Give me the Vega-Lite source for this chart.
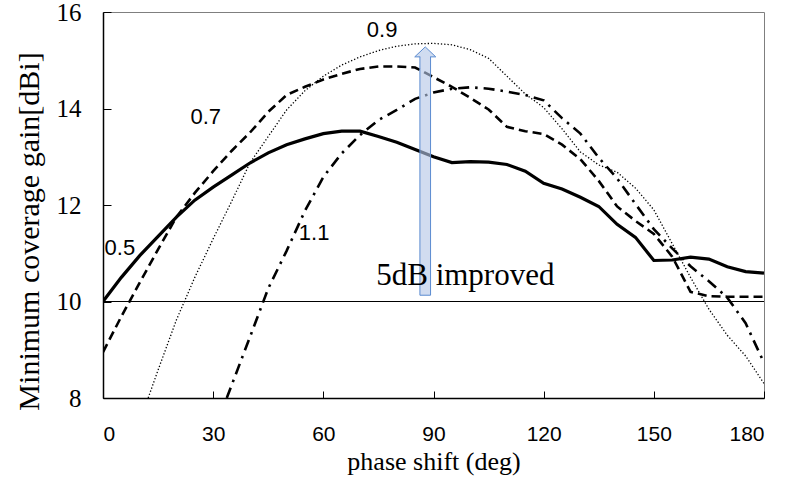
{
  "$schema": "https://vega.github.io/schema/vega-lite/v6.json",
  "width": 661,
  "height": 386,
  "autosize": "none",
  "padding": {"left": 103, "top": 12, "right": 36, "bottom": 83},
  "background": "white",
  "config": {
    "view": {"stroke": "#7f7f7f", "strokeWidth": 1},
    "axis": {"grid": false, "domainColor": "#000000", "domainWidth": 1.5, "tickColor": "#000000", "tickWidth": 1, "labelColor": "#000000", "titleColor": "#000000", "titleFontWeight": "normal"}
  },
  "datasets": {
    "curves": [
      {"phase": 0, "gain": 10.0, "series": "0.5"},
      {"phase": 5, "gain": 10.5, "series": "0.5"},
      {"phase": 10, "gain": 10.95, "series": "0.5"},
      {"phase": 15, "gain": 11.35, "series": "0.5"},
      {"phase": 20, "gain": 11.75, "series": "0.5"},
      {"phase": 25, "gain": 12.1, "series": "0.5"},
      {"phase": 30, "gain": 12.37, "series": "0.5"},
      {"phase": 35, "gain": 12.62, "series": "0.5"},
      {"phase": 40, "gain": 12.87, "series": "0.5"},
      {"phase": 45, "gain": 13.08, "series": "0.5"},
      {"phase": 50, "gain": 13.25, "series": "0.5"},
      {"phase": 55, "gain": 13.37, "series": "0.5"},
      {"phase": 60, "gain": 13.48, "series": "0.5"},
      {"phase": 65, "gain": 13.53, "series": "0.5"},
      {"phase": 70, "gain": 13.53, "series": "0.5"},
      {"phase": 75, "gain": 13.42, "series": "0.5"},
      {"phase": 80, "gain": 13.3, "series": "0.5"},
      {"phase": 85, "gain": 13.15, "series": "0.5"},
      {"phase": 90, "gain": 13.0, "series": "0.5"},
      {"phase": 95, "gain": 12.88, "series": "0.5"},
      {"phase": 100, "gain": 12.9, "series": "0.5"},
      {"phase": 105, "gain": 12.89, "series": "0.5"},
      {"phase": 110, "gain": 12.84, "series": "0.5"},
      {"phase": 115, "gain": 12.7, "series": "0.5"},
      {"phase": 120, "gain": 12.45, "series": "0.5"},
      {"phase": 125, "gain": 12.33, "series": "0.5"},
      {"phase": 130, "gain": 12.16, "series": "0.5"},
      {"phase": 135, "gain": 11.97, "series": "0.5"},
      {"phase": 140, "gain": 11.6, "series": "0.5"},
      {"phase": 145, "gain": 11.33, "series": "0.5"},
      {"phase": 150, "gain": 10.85, "series": "0.5"},
      {"phase": 155, "gain": 10.86, "series": "0.5"},
      {"phase": 160, "gain": 10.92, "series": "0.5"},
      {"phase": 165, "gain": 10.88, "series": "0.5"},
      {"phase": 170, "gain": 10.72, "series": "0.5"},
      {"phase": 175, "gain": 10.62, "series": "0.5"},
      {"phase": 180, "gain": 10.59, "series": "0.5"},

      {"phase": 0, "gain": 8.95, "series": "0.7"},
      {"phase": 5, "gain": 9.69, "series": "0.7"},
      {"phase": 10, "gain": 10.39, "series": "0.7"},
      {"phase": 15, "gain": 11.08, "series": "0.7"},
      {"phase": 20, "gain": 11.75, "series": "0.7"},
      {"phase": 25, "gain": 12.25, "series": "0.7"},
      {"phase": 30, "gain": 12.7, "series": "0.7"},
      {"phase": 35, "gain": 13.12, "series": "0.7"},
      {"phase": 40, "gain": 13.5, "series": "0.7"},
      {"phase": 45, "gain": 13.93, "series": "0.7"},
      {"phase": 50, "gain": 14.28, "series": "0.7"},
      {"phase": 55, "gain": 14.45, "series": "0.7"},
      {"phase": 60, "gain": 14.6, "series": "0.7"},
      {"phase": 65, "gain": 14.72, "series": "0.7"},
      {"phase": 70, "gain": 14.82, "series": "0.7"},
      {"phase": 75, "gain": 14.87, "series": "0.7"},
      {"phase": 80, "gain": 14.87, "series": "0.7"},
      {"phase": 85, "gain": 14.85, "series": "0.7"},
      {"phase": 90, "gain": 14.65, "series": "0.7"},
      {"phase": 95, "gain": 14.45, "series": "0.7"},
      {"phase": 100, "gain": 14.22, "series": "0.7"},
      {"phase": 105, "gain": 13.98, "series": "0.7"},
      {"phase": 110, "gain": 13.62, "series": "0.7"},
      {"phase": 115, "gain": 13.53, "series": "0.7"},
      {"phase": 120, "gain": 13.47, "series": "0.7"},
      {"phase": 125, "gain": 13.25, "series": "0.7"},
      {"phase": 130, "gain": 12.95, "series": "0.7"},
      {"phase": 135, "gain": 12.5, "series": "0.7"},
      {"phase": 140, "gain": 11.97, "series": "0.7"},
      {"phase": 145, "gain": 11.67, "series": "0.7"},
      {"phase": 150, "gain": 11.4, "series": "0.7"},
      {"phase": 155, "gain": 10.93, "series": "0.7"},
      {"phase": 160, "gain": 10.2, "series": "0.7"},
      {"phase": 165, "gain": 10.11, "series": "0.7"},
      {"phase": 170, "gain": 10.1, "series": "0.7"},
      {"phase": 175, "gain": 10.1, "series": "0.7"},
      {"phase": 180, "gain": 10.1, "series": "0.7"},

      {"phase": 12.3, "gain": 8.0, "series": "0.9"},
      {"phase": 15, "gain": 8.58, "series": "0.9"},
      {"phase": 20, "gain": 9.62, "series": "0.9"},
      {"phase": 25, "gain": 10.5, "series": "0.9"},
      {"phase": 30, "gain": 11.3, "series": "0.9"},
      {"phase": 35, "gain": 12.07, "series": "0.9"},
      {"phase": 40, "gain": 12.87, "series": "0.9"},
      {"phase": 45, "gain": 13.42, "series": "0.9"},
      {"phase": 50, "gain": 13.97, "series": "0.9"},
      {"phase": 55, "gain": 14.37, "series": "0.9"},
      {"phase": 60, "gain": 14.67, "series": "0.9"},
      {"phase": 65, "gain": 14.9, "series": "0.9"},
      {"phase": 70, "gain": 15.07, "series": "0.9"},
      {"phase": 75, "gain": 15.2, "series": "0.9"},
      {"phase": 80, "gain": 15.29, "series": "0.9"},
      {"phase": 85, "gain": 15.34, "series": "0.9"},
      {"phase": 90, "gain": 15.35, "series": "0.9"},
      {"phase": 95, "gain": 15.32, "series": "0.9"},
      {"phase": 100, "gain": 15.22, "series": "0.9"},
      {"phase": 105, "gain": 15.04, "series": "0.9"},
      {"phase": 110, "gain": 14.67, "series": "0.9"},
      {"phase": 115, "gain": 14.3, "series": "0.9"},
      {"phase": 120, "gain": 14.02, "series": "0.9"},
      {"phase": 125, "gain": 13.58, "series": "0.9"},
      {"phase": 130, "gain": 13.1, "series": "0.9"},
      {"phase": 135, "gain": 12.83, "series": "0.9"},
      {"phase": 140, "gain": 12.68, "series": "0.9"},
      {"phase": 145, "gain": 12.35, "series": "0.9"},
      {"phase": 150, "gain": 11.9, "series": "0.9"},
      {"phase": 155, "gain": 11.2, "series": "0.9"},
      {"phase": 160, "gain": 10.5, "series": "0.9"},
      {"phase": 165, "gain": 9.84, "series": "0.9"},
      {"phase": 170, "gain": 9.3, "series": "0.9"},
      {"phase": 175, "gain": 8.87, "series": "0.9"},
      {"phase": 180, "gain": 8.3, "series": "0.9"},

      {"phase": 33.7, "gain": 8.0, "series": "1.1"},
      {"phase": 35, "gain": 8.26, "series": "1.1"},
      {"phase": 40, "gain": 9.26, "series": "1.1"},
      {"phase": 45, "gain": 10.27, "series": "1.1"},
      {"phase": 50, "gain": 11.05, "series": "1.1"},
      {"phase": 55, "gain": 11.88, "series": "1.1"},
      {"phase": 60, "gain": 12.58, "series": "1.1"},
      {"phase": 65, "gain": 13.07, "series": "1.1"},
      {"phase": 70, "gain": 13.45, "series": "1.1"},
      {"phase": 75, "gain": 13.76, "series": "1.1"},
      {"phase": 80, "gain": 13.97, "series": "1.1"},
      {"phase": 85, "gain": 14.2, "series": "1.1"},
      {"phase": 90, "gain": 14.33, "series": "1.1"},
      {"phase": 95, "gain": 14.41, "series": "1.1"},
      {"phase": 100, "gain": 14.44, "series": "1.1"},
      {"phase": 105, "gain": 14.41, "series": "1.1"},
      {"phase": 110, "gain": 14.35, "series": "1.1"},
      {"phase": 115, "gain": 14.28, "series": "1.1"},
      {"phase": 120, "gain": 14.17, "series": "1.1"},
      {"phase": 125, "gain": 13.8, "series": "1.1"},
      {"phase": 130, "gain": 13.48, "series": "1.1"},
      {"phase": 135, "gain": 12.98, "series": "1.1"},
      {"phase": 140, "gain": 12.55, "series": "1.1"},
      {"phase": 145, "gain": 12.02, "series": "1.1"},
      {"phase": 150, "gain": 11.5, "series": "1.1"},
      {"phase": 155, "gain": 11.1, "series": "1.1"},
      {"phase": 160, "gain": 10.73, "series": "1.1"},
      {"phase": 165, "gain": 10.42, "series": "1.1"},
      {"phase": 170, "gain": 10.08, "series": "1.1"},
      {"phase": 175, "gain": 9.55, "series": "1.1"},
      {"phase": 180, "gain": 8.73, "series": "1.1"}
    ],
    "shaft": [{"x1": 86.3, "x2": 89.2, "y1": 10.13, "y2": 15.1}],
    "head": [{"hx": 87.75, "hy": 15.07}],
    "labels": [
      {"lx": 4.6, "ly": 11.11, "text": "0.5"},
      {"lx": 28, "ly": 13.82, "text": "0.7"},
      {"lx": 76, "ly": 15.63, "text": "0.9"},
      {"lx": 57.5, "ly": 11.42, "text": "1.1"}
    ],
    "note": [{"nx": 74.4, "ny": 10.34, "text": "5dB improved"}],
    "base": [{"level": 10}]
  },
  "layer": [
    {
      "data": {"name": "base"},
      "mark": {"type": "rule", "color": "#000000", "strokeWidth": 1},
      "encoding": {
        "y": {"field": "level", "type": "quantitative", "scale": {"domain": [8, 16], "nice": false},
          "axis": {"values": [8, 10, 12, 14, 16], "tickSize": -8, "labelFont": "Liberation Serif", "labelFontSize": 25, "labelPadding": 30, "title": "Minimum coverage gain[dBi]", "titleFont": "Liberation Serif", "titleFontSize": 30, "titlePadding": 12, "titleY": 219}}
      }
    },
    {
      "data": {"name": "curves"},
      "transform": [{"filter": "datum.series == '0.9'"}],
      "mark": {"type": "line", "color": "#000000", "strokeWidth": 1.3, "strokeDash": [1.3, 2], "clip": true},
      "encoding": {
        "x": {"field": "phase", "type": "quantitative", "scale": {"domain": [0, 180], "nice": false},
          "axis": {"values": [0, 30, 60, 90, 120, 150, 180], "tickSize": -7, "labelFont": "Liberation Sans", "labelFontSize": 21, "labelPadding": 32, "title": "phase shift (deg)", "titleFont": "Liberation Serif", "titleFontSize": 26, "titlePadding": 4}},
        "y": {"field": "gain", "type": "quantitative"}
      }
    },
    {
      "data": {"name": "curves"},
      "transform": [{"filter": "datum.series == '1.1'"}],
      "mark": {"type": "line", "color": "#000000", "strokeWidth": 2.6, "strokeDash": [11, 6, 2.5, 6], "clip": true},
      "encoding": {
        "x": {"field": "phase", "type": "quantitative"},
        "y": {"field": "gain", "type": "quantitative"}
      }
    },
    {
      "data": {"name": "curves"},
      "transform": [{"filter": "datum.series == '0.7'"}],
      "mark": {"type": "line", "color": "#000000", "strokeWidth": 2.6, "strokeDash": [9, 5], "clip": true},
      "encoding": {
        "x": {"field": "phase", "type": "quantitative"},
        "y": {"field": "gain", "type": "quantitative"}
      }
    },
    {
      "data": {"name": "curves"},
      "transform": [{"filter": "datum.series == '0.5'"}],
      "mark": {"type": "line", "color": "#000000", "strokeWidth": 3.2, "clip": true},
      "encoding": {
        "x": {"field": "phase", "type": "quantitative"},
        "y": {"field": "gain", "type": "quantitative"}
      }
    },
    {
      "data": {"name": "shaft"},
      "mark": {"type": "rect", "fill": "#b4c7e7", "fillOpacity": 0.62, "stroke": "#5b8bd0", "strokeWidth": 1},
      "encoding": {
        "x": {"field": "x1", "type": "quantitative"},
        "x2": {"field": "x2"},
        "y": {"field": "y1", "type": "quantitative"},
        "y2": {"field": "y2"}
      }
    },
    {
      "data": {"name": "head"},
      "mark": {"type": "point", "shape": "M-0.48,0L-1,0L0,-0.95L1,0L0.48,0", "size": 441, "filled": true, "fill": "#d0dcf0", "fillOpacity": 1, "stroke": "#5b8bd0", "strokeWidth": 1, "opacity": 1},
      "encoding": {
        "x": {"field": "hx", "type": "quantitative"},
        "y": {"field": "hy", "type": "quantitative"}
      }
    },
    {
      "data": {"name": "labels"},
      "mark": {"type": "text", "font": "Liberation Sans", "fontSize": 22, "color": "#000000", "align": "center", "baseline": "middle"},
      "encoding": {
        "x": {"field": "lx", "type": "quantitative"},
        "y": {"field": "ly", "type": "quantitative"},
        "text": {"field": "text"}
      }
    },
    {
      "data": {"name": "note"},
      "mark": {"type": "text", "font": "Liberation Serif", "fontSize": 31, "color": "#000000", "align": "left", "baseline": "alphabetic"},
      "encoding": {
        "x": {"field": "nx", "type": "quantitative"},
        "y": {"field": "ny", "type": "quantitative"},
        "text": {"field": "text"}
      }
    }
  ]
}
